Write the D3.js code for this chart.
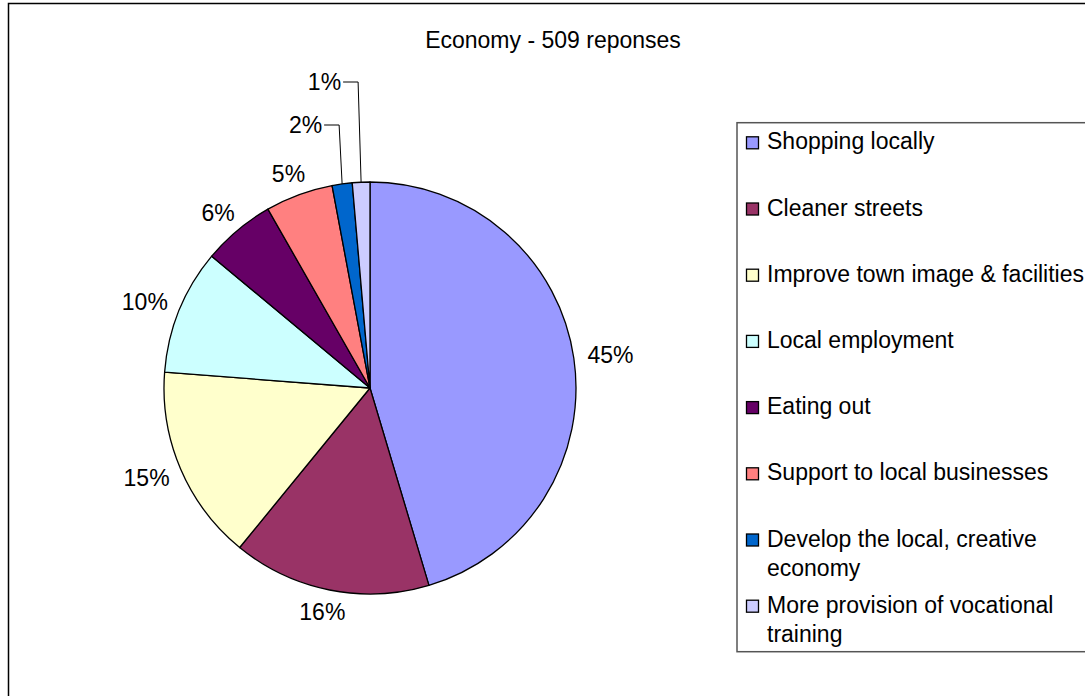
<!DOCTYPE html>
<html>
<head>
<meta charset="utf-8">
<script src="https://cdn.jsdelivr.net/npm/d3@7"></script>
<style>
  html, body { margin: 0; padding: 0; background: #fff; overflow: hidden; }
  svg { display: block; }
  text { font-family: "Liberation Sans", Arial, sans-serif; fill: #000; }
</style>
</head>
<body>
<svg id="chart" width="1085" height="696"></svg>
<script>
// ---- data ----
const title = "Economy - 509 reponses";
const categories = [
  "Shopping locally",
  "Cleaner streets",
  "Improve town image & facilities",
  "Local employment",
  "Eating out",
  "Support to local businesses",
  "Develop the local, creative economy",
  "More provision of vocational training"
];
const legendLines = [
  ["Shopping locally"],
  ["Cleaner streets"],
  ["Improve town image & facilities"],
  ["Local employment"],
  ["Eating out"],
  ["Support to local businesses"],
  ["Develop the local, creative", "economy"],
  ["More provision of vocational", "training"]
];
const responses = [231, 79, 78, 50, 29, 27, 8, 7];
const colors = ["#9999FF", "#993366", "#FFFFCC", "#CCFFFF", "#660066", "#FF8080", "#0066CC", "#CCCCFF"];

// ---- layout ----
const W = 1085, H = 696;
const cx = 370, cy = 388, R = 206;
const fontSize = 23;
const svg = d3.select("#chart");

// outer frame
svg.append("rect")
  .attr("x", 8.5).attr("y", 3.5)
  .attr("width", 1120).attr("height", 740)
  .attr("fill", "#fff").attr("stroke", "#000").attr("stroke-width", 1.5);

// title
svg.append("text")
  .attr("x", 553).attr("y", 48)
  .attr("text-anchor", "middle")
  .style("font-size", fontSize + "px")
  .text(title);

const total = d3.sum(responses);
const pie = d3.pie().sort(null).value(d => d)(responses);
const arc = d3.arc().innerRadius(0).outerRadius(R);

const g = svg.append("g").attr("transform", `translate(${cx},${cy})`);
g.selectAll("path.slice")
  .data(pie)
  .join("path")
  .attr("class", "slice")
  .attr("d", arc)
  .attr("fill", (d, i) => colors[i])
  .attr("stroke", "#000")
  .attr("stroke-width", 1.3)
  .attr("stroke-linejoin", "round");

const fmt = d => Math.round(100 * d.value / total) + "%";

// labels
const small = pie.filter(d => d.value / total < 0.03);
pie.forEach((d, i) => {
  const mid = (d.startAngle + d.endAngle) / 2;
  const s = Math.sin(mid), c = Math.cos(mid);
  const isSmall = d.value / total < 0.03;
  if (!isSmall) {
    const rr = R + 14;
    const px = rr * s, py = -rr * c;
    const t = g.append("text")
      .style("font-size", fontSize + "px")
      .attr("text-anchor", "middle")
      .text(fmt(d));
    const w = t.node().getComputedTextLength();
    const h = 17;
    const x = px + (w / 2) * s;
    const y = py - (h / 2) * c;
    t.attr("x", x).attr("y", y + h / 2 - 0.5);
  } else {
    const rank = small.length - 1 - small.indexOf(d); // last slice gets highest
    const ex = R * s, ey = -R * c;
    const levelY = -R - 57 - 43 * (small.length - 1 - rank === 0 ? 0 : 0) - 43 * (small.indexOf(d));
    const vx = ex - 3;
    const hx = vx - 15;
    g.append("path")
      .attr("d", `M${ex},${ey}L${vx},${levelY}L${hx},${levelY}`)
      .attr("fill", "none")
      .attr("stroke", "#000")
      .attr("stroke-width", 1);
    g.append("text")
      .style("font-size", fontSize + "px")
      .attr("text-anchor", "end")
      .attr("x", hx - 2)
      .attr("y", levelY + 8)
      .text(fmt(d));
  }
});

// legend
const lgX = 737, lgY = 122.7;
svg.append("rect")
  .attr("x", lgX).attr("y", lgY)
  .attr("width", 420).attr("height", 529)
  .attr("fill", "#fff").attr("stroke", "#555").attr("stroke-width", 1.5);

const rowPitch = 66.2, firstBase = 149.3, lineH = 29;
const lg = svg.append("g");
categories.forEach((cat, i) => {
  const base = firstBase + rowPitch * i;
  lg.append("rect")
    .attr("x", 746.5).attr("y", base - 12.5)
    .attr("width", 12).attr("height", 12)
    .attr("fill", colors[i]).attr("stroke", "#000").attr("stroke-width", 1.3);
  const t = lg.append("text")
    .attr("x", 767).attr("y", base)
    .style("font-size", fontSize + "px");
  legendLines[i].forEach((ln, j) => {
    t.append("tspan").attr("x", 767).attr("y", base + j * lineH).text(ln);
  });
});
</script>
</body>
</html>
